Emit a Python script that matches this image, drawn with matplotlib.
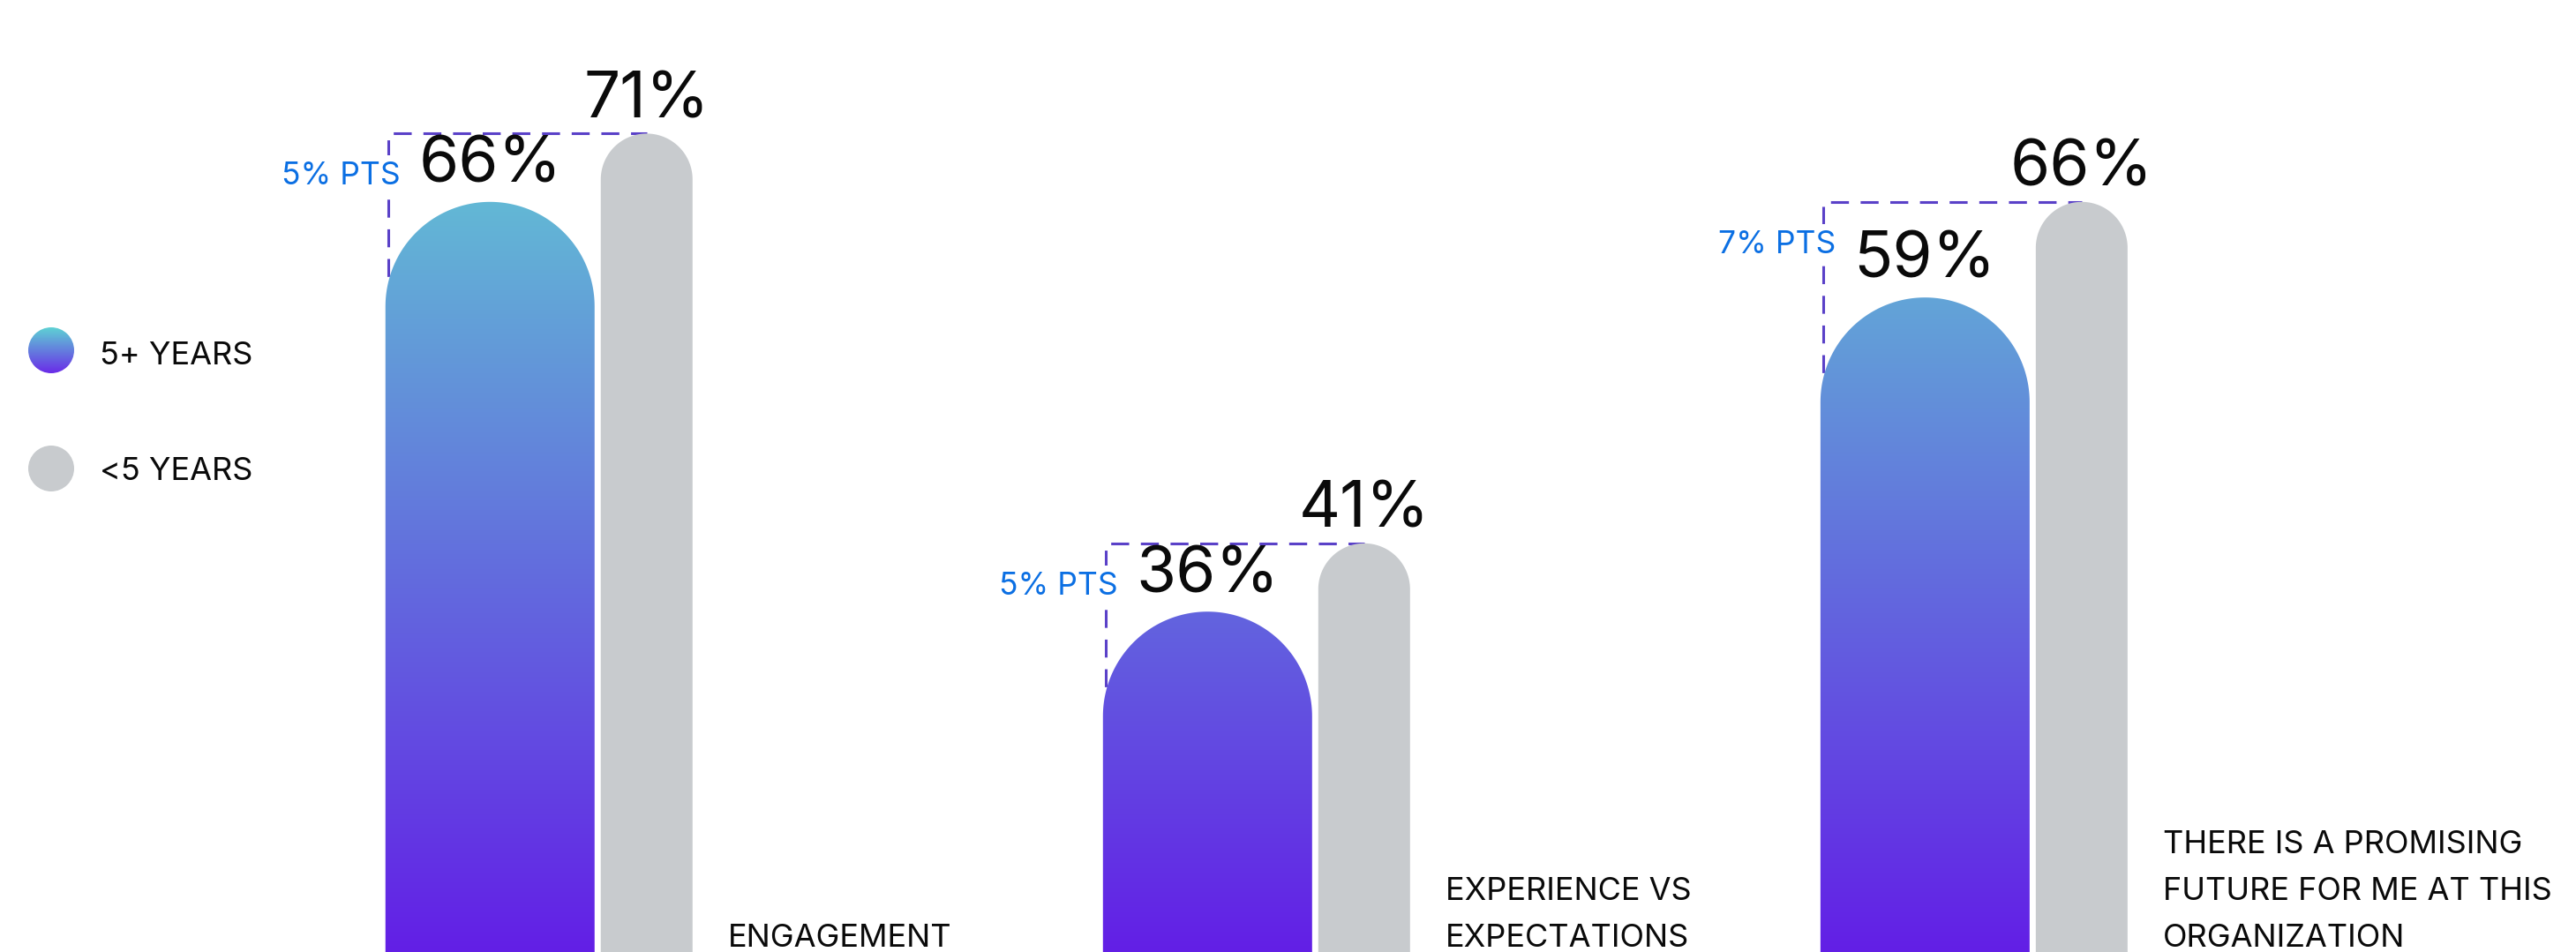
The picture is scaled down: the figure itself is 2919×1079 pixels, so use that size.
import numpy as np
import matplotlib
matplotlib.use("Agg")
import matplotlib.pyplot as plt
from matplotlib.path import Path
from matplotlib.patches import PathPatch, Circle

# ---- data -------------------------------------------------------------
categories = ["ENGAGEMENT",
              "EXPERIENCE VS\nEXPECTATIONS",
              "THERE IS A PROMISING\nFUTURE FOR ME AT THIS\nORGANIZATION"]
tenure_5plus = [66, 36, 59]
tenure_under5 = [71, 41, 66]
series_names = ["5+ YEARS", "<5 YEARS"]
gap_labels = ["5% PTS", "5% PTS", "7% PTS"]

# ---- style ------------------------------------------------------------
FONT = "Inter"
GRAY = "#C8CBCE"
DASH_COLOR = "#5A41C8"
PTS_COLOR = "#0B6FE3"
GRAD_TOP = np.array([98, 225, 209]) / 255
GRAD_BOT = np.array([99, 31, 230]) / 255
LEG_TOP = np.array([94, 210, 212]) / 255
LEG_BOT = np.array([106, 43, 232]) / 255

W, H, DPI = 2919, 1079, 100
fig = plt.figure(figsize=(W / DPI, H / DPI), dpi=DPI)
fig.patch.set_facecolor("white")

ax = fig.add_axes([0, 0, 1, 1])
XLIM = (-0.7512, 2.839)
YLIM = (11.08, 80.78)
ax.set_xlim(*XLIM)
ax.set_ylim(*YLIM)
ax.axis("off")

# pixels per data unit
p0 = ax.transData.transform((0, 0))
p1 = ax.transData.transform((1, 1))
sx, sy = p1[0] - p0[0], p1[1] - p0[1]

blue_w = 237 / sx
gray_w = 104 / sx
inner_gap = 7 / sx
group_half = (237 + 7 + 104) / 2 / sx


def cap_height(width):
    """Height (y units) of a semicircular cap that looks round on screen."""
    return (width / 2) * sx / sy


def dome_path(left, width, top, base=0.0):
    """Bar with a semicircular cap."""
    rx = width / 2
    ry = cap_height(width)
    cx = left + rx
    shoulder = top - ry
    t = np.linspace(0, np.pi, 120)
    xs = np.concatenate([[left + width, left + width], cx + rx * np.cos(t), [left, left]])
    ys = np.concatenate([[base, shoulder], shoulder + ry * np.sin(t), [shoulder, base]])
    verts = np.column_stack([xs, ys])
    verts = np.vstack([verts, verts[:1]])
    return Path(verts, closed=True)


def gradient(top, bot, n=512):
    fr = np.linspace(0, 1, n)[:, None]
    return (top * (1 - fr) + bot * fr)[:, None, :]


bar_grad = gradient(GRAD_TOP, GRAD_BOT)

for i, (cat, v5, vu, gl) in enumerate(zip(categories, tenure_5plus, tenure_under5, gap_labels)):
    blue_left = i - group_half
    gray_left = blue_left + blue_w + inner_gap
    blue_c = blue_left + blue_w / 2
    gray_c = gray_left + gray_w / 2

    # 5+ years bar, filled with a vertical gradient
    bp = PathPatch(dome_path(blue_left, blue_w, v5), fc="none", lw=0, zorder=3)
    ax.add_patch(bp)
    im = ax.imshow(bar_grad, extent=(XLIM[0], XLIM[1], YLIM[0], YLIM[1]),
                   origin="upper", aspect="auto", interpolation="bilinear", zorder=3)
    im.set_clip_path(bp)

    # <5 years bar
    ax.add_patch(PathPatch(dome_path(gray_left, gray_w, vu), fc=GRAY, lw=0, zorder=3))

    # dashed bracket marking the gap (runs down behind the rounded cap)
    dx = 3 / sx
    ax.plot([blue_left + dx, blue_left + dx, gray_c],
            [v5 - cap_height(blue_w), vu, vu],
            ls=(0, (20 / 3.0, 13 / 3.0)), lw=2.2, color=DASH_COLOR,
            dash_capstyle="butt", zorder=1)
    ax.annotate(gl, (blue_left, vu), xytext=(12.2, -41.8), textcoords="offset points",
                ha="right", va="baseline", fontsize=25.5, color=PTS_COLOR, family=FONT,
                bbox=dict(fc="white", ec="none", pad=5), zorder=2)

    # value labels
    ax.annotate(f"{v5}%", (blue_c, v5), xytext=(0, 16), textcoords="offset points",
                ha="center", va="baseline", fontsize=52.5, color="#0A0A0A", family=FONT)
    ax.annotate(f"{vu}%", (gray_c, vu), xytext=(0, 13), textcoords="offset points",
                ha="center", va="baseline", fontsize=52.5, color="#0A0A0A", family=FONT)

    # category label, bottom-aligned to the right of the pair
    lines = cat.split("\n")
    n = len(lines)
    for k, line in enumerate(lines):
        ax.annotate(line, (gray_left + gray_w, 0), xycoords=("data", "axes fraction"),
                    xytext=(29, 4.5 + 38 * (n - 1 - k)), textcoords="offset points",
                    ha="left", va="baseline", fontsize=26, color="#0A0A0A", family=FONT)

# ---- legend -----------------------------------------------------------
lax = fig.add_axes([0, 0, 1, 1], zorder=3)
lax.set_xlim(0, W)
lax.set_ylim(H, 0)
lax.axis("off")
lax.patch.set_alpha(0)

r = 26
c1 = Circle((58, 397), r, fc="none", lw=0)
lax.add_patch(c1)
lim = lax.imshow(gradient(LEG_TOP, LEG_BOT), extent=(58 - r, 58 + r, 397 + r, 397 - r),
                 origin="upper", aspect="auto", interpolation="bilinear")
lim.set_clip_path(c1)
lax.set_xlim(0, W)
lax.set_ylim(H, 0)
lax.add_patch(Circle((58, 531), r, fc=GRAY, lw=0))
lax.text(113, 413, series_names[0], ha="left", va="baseline", fontsize=26,
         color="#0A0A0A", family=FONT)
lax.text(113, 544, series_names[1], ha="left", va="baseline", fontsize=26,
         color="#0A0A0A", family=FONT)

fig.savefig("out.png", dpi=DPI, facecolor="white")
